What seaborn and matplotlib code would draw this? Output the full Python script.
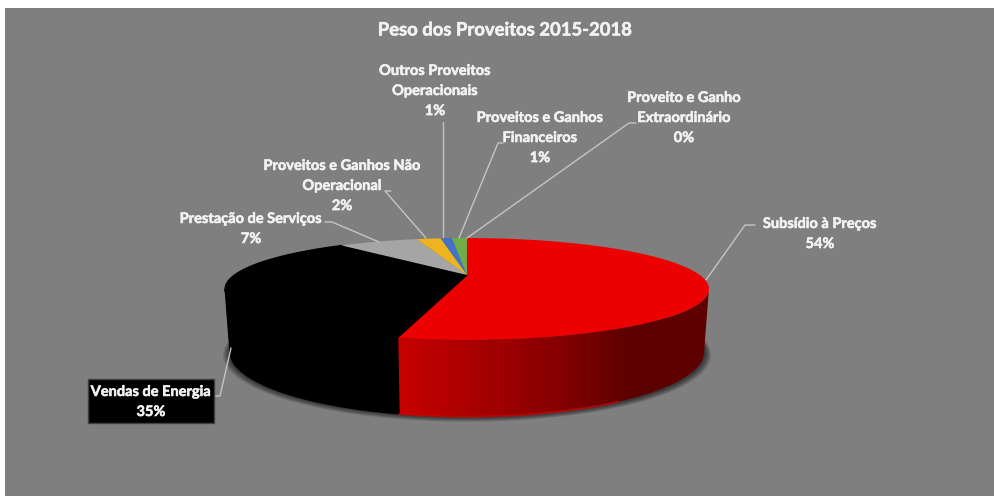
import numpy as np
import matplotlib
matplotlib.use("Agg")
import matplotlib.pyplot as plt
from matplotlib.patches import Polygon, Rectangle
import matplotlib.patheffects as pe
import seaborn as sns

# valores (labels arredondam)
categorias = ["Subsídio à Preços", "Vendas de Energia", "Prestação de Serviços",
              "Proveitos e Ganhos Não\nOperacional", "Outros Proveitos\nOperacionais",
              "Proveitos e Ganhos\nFinanceiros", "Proveito e Ganho\nExtraordinário"]
pesos = [53.5, 35.2, 6.9, 2.1, 1.0, 1.2, 0.1]
rotulos = ["54%", "35%", "7%", "2%", "1%", "1%", "0%"]
cores = ["#ee0000", "#000000", "#a5a5a5", "#edb41e", "#4472c4", "#70ad47", "#70ad47"]

sns.set_style("white")
plt.rcParams["font.family"] = ["Lato", "DejaVu Sans"]

CINZA = "#7f7f7f"
TEXTO = "#f2f2f2"
LINHA = "#c4c4c4"
P = 0.274   # perspectiva


def projeta(theta, cy, sx, sy, cx=467):
    # disco -> tela, com perspectiva (theta a partir do topo, sentido horario)
    u, v = np.sin(theta), np.cos(theta)
    d = 1 + P * v
    return cx + sx * u / d, cy - sy * v / d


def topo(theta):
    return projeta(theta, 275, 232.7, 47.1)


def base(theta):
    return projeta(theta, 334, 228, 60)


fig = plt.figure(figsize=(9.94, 4.96), dpi=100, facecolor="white")
ax = fig.add_axes([0, 0, 1, 1])
ax.add_patch(Rectangle((5, 8), 989, 488, color=CINZA, lw=0, zorder=0))

limites = 2 * np.pi * np.concatenate([[0], np.cumsum(pesos)]) / sum(pesos)

# sombra
circulo = np.linspace(0, 2 * np.pi, 240)
for k in range(6):
    x, y = projeta(circulo, 335 + k * 0.4, 229 + k * 1.1, 60 + k * 0.3)
    ax.fill(x, y, color="black", alpha=0.12, lw=0, zorder=1)

# parede lateral, so a parte visivel (entre as tangentes verticais)
visivel = np.arccos(-P), 2 * np.pi - np.arccos(-P)
grad = sns.blend_palette(["#c80000", "#a80000", "#880000", "#5c0000", "#600000"], as_cmap=True)
for i, cor in enumerate(cores[:2]):
    th = np.linspace(max(limites[i], visivel[0]), min(limites[i + 1], visivel[1]), 120)
    xt, yt = topo(th)
    xb, yb = base(th)
    parede = np.column_stack([np.concatenate([xt, xb[::-1]]), np.concatenate([yt, yb[::-1]])])
    if i == 0:
        im = ax.imshow(np.linspace(0, 1, 300)[None, :], cmap=grad, extent=(398, 709, 430, 230),
                       aspect="auto", zorder=2)
        im.set_clip_path(Polygon(parede, transform=ax.transData))
        # borda inferior mais clara na frente
        th_b = np.linspace(limites[1] - 0.75, limites[1], 40)
        ax.plot(*base(th_b), color="#d80000", lw=1.5, alpha=0.6, zorder=2.2)
    else:
        ax.fill(parede[:, 0], parede[:, 1], color=cor, ec=cor, lw=0.8, zorder=2)

# face superior
for i, cor in enumerate(cores):
    th = np.linspace(limites[i], limites[i + 1], 120)
    xt, yt = topo(th)
    ax.fill(np.r_[467, xt], np.r_[275, yt], color=cor, lw=0.8 if i == 1 else 0, zorder=3)

# linhas de chamada
chamadas = [
    [(755, 225), (745, 225), (706, 280)],
    [(215, 396), (220, 396), (231, 348)],
    [(325, 222), (332, 222), (379, 242)],
    [(391, 191), (385, 191), (426, 238)],
    [(443, 122), (443, 237)],
    [(503, 143), (498, 143), (459, 238)],
    [(636, 123), (629, 123), (467, 238)],
]
for pts in chamadas:
    xs, ys = zip(*pts)
    ax.plot(xs, ys, color=LINHA, lw=1, zorder=2.5 if pts[0][0] == 755 else 4)

# textos
contorno = [pe.withStroke(linewidth=0.4, foreground=TEXTO)]
pos = [(820, 234), (151, 402), (251, 229), (342, 186), (435, 91), (540, 138), (684, 118)]
for i, (nome, rot, (x, y)) in enumerate(zip(categorias, rotulos, pos)):
    ax.text(x, y, nome + "\n" + rot, ha="center", va="center", color=TEXTO, fontsize=10.5,
            fontweight="bold", linespacing=1.55, zorder=5, path_effects=contorno)
    if i == 1:
        ax.add_patch(Rectangle((88, 379), 126, 44, fc="black", ec="#404040", lw=1, zorder=4.5))

ax.text(505, 30, "Peso dos Proveitos 2015-2018", ha="center", va="center", color=TEXTO,
        fontsize=13.3, fontweight="bold", zorder=5, path_effects=contorno)

ax.set_xlim(0, 994)
ax.set_ylim(496, 0)
ax.axis("off")
fig.savefig("out.png", dpi=100, facecolor="white")
